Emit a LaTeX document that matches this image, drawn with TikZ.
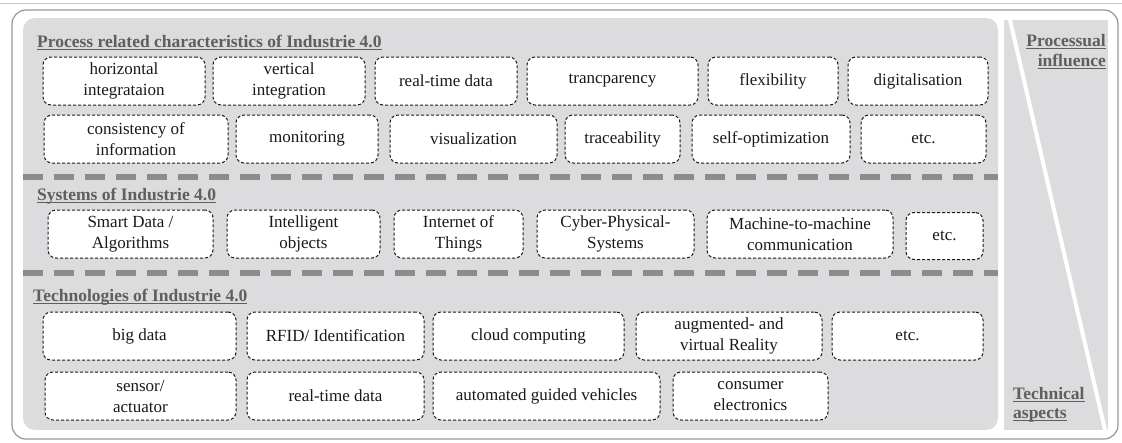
\documentclass[tikz,border=0pt]{standalone}
\usepackage{fontspec}
\setmainfont{Liberation Serif}
\usetikzlibrary{positioning}
\definecolor{panelgray}{RGB}{220,220,222}
\definecolor{framegray}{RGB}{150,150,150}
\definecolor{sepgray}{RGB}{140,140,140}
\definecolor{titlegray}{RGB}{95,95,95}
\newcommand{\ulx}[1]{\setbox0=\hbox{#1}\rlap{\copy0}\rule[-3pt]{\wd0}{1.3pt}}
\tikzset{item/.style={draw=black!90,dash pattern=on 3pt off 2pt,line width=1pt,rounded corners=8pt,fill=white,inner sep=0pt,minimum height=48pt,align=center,font=\fontsize{17}{21}\selectfont,text=black!90}}
\tikzset{ttl/.style={anchor=base west,inner sep=0pt,text=titlegray,font=\fontsize{17.5}{20}\selectfont\bfseries}}
\tikzset{sep/.style={draw=sepgray,line width=6pt,dash pattern=on 20pt off 11pt}}

\begin{document}
\begin{tikzpicture}[x=1pt,y=-1pt]
        \useasboundingbox (0,0) rectangle (1122,442);
        % frame, panel and wedge
        \draw[black!22,line width=1pt] (0,3) -- (1122,3);
        \draw[framegray,line width=1.2pt,rounded corners=14pt] (12,10) rectangle (1118,439);
        \fill[panelgray,rounded corners=12pt] (23,18) rectangle (998,430);
        \fill[panelgray] (1004,20) rectangle (1108,430);
        \draw[white,line width=4pt] (1010,20) -- (1105,430);

        % separators
        \draw[sep] (23,177) -- (998,177);
        \draw[sep] (23,273) -- (998,273);

        % titles
        \node[ttl] (tproc) at (37,47) {\ulx{Process related characteristics of Industrie 4.0}};
        \node[ttl] (tsys) at (37,200) {\ulx{Systems of Industrie 4.0}};
        \node[ttl] (ttech) at (33,301) {\ulx{Technologies of Industrie 4.0}};
        \node[ttl,anchor=base east] (tinfa) at (1106,46) {\ulx{Processual}};
        \node[ttl,anchor=base east] (tinfb) at (1106,66) {\ulx{influence}};
        \node[ttl] (tasa) at (1013,399) {\ulx{Technical}};
        \node[ttl] (tasb) at (1013,418) {\ulx{aspects}};

        % process related characteristics
        \node[item,minimum width=162pt] (hint) at (124,81) {horizontal\\integrataion};
        \node[item,minimum width=152pt] (vint) at (289,81) {vertical\\integration};
        \node[item,minimum width=142pt] (rtd) at (446,81) {real-time data};
        \node[item,minimum width=171pt] (tra) at (612.5,81) {trancparency};
        \node[item,minimum width=130pt] (flex) at (773,81) {flexibility};
        \node[item,minimum width=140pt] (dig) at (918,81) {digitalisation};
        \node[item,minimum width=184pt] (cons) at (136,139) {consistency of\\information};
        \node[item,minimum width=142pt] (mon) at (307,139) {monitoring};
        \node[item,minimum width=167pt] (vis) at (473.5,139) {visualization};
        \node[item,minimum width=115pt] (trace) at (622.5,139) {traceability};
        \node[item,minimum width=158pt] (selfopt) at (771,139) {self-optimization};
        \node[item,minimum width=125pt] (etcproc) at (923.5,139) {etc.};

        % systems
        \node[item,minimum width=165pt] (sda) at (130.5,234) {Smart Data /\\Algorithms};
        \node[item,minimum width=153pt] (iob) at (303.5,234) {Intelligent\\objects};
        \node[item,minimum width=129pt] (iot) at (458.5,234) {Internet of\\Things};
        \node[item,minimum width=157pt] (cps) at (615.5,234) {Cyber-Physical-\\Systems};
        \node[item,minimum width=186pt] (mtm) at (800,234) {Machine-to-machine\\communication};
        \node[item,minimum width=77pt,minimum height=47pt] (etcsys) at (944.5,236) {etc.};

        % technologies
        \node[item,minimum width=193pt] (bd) at (139.5,336) {big data};
        \node[item,minimum width=177pt] (rfid) at (335.5,336) {RFID/ Identification};
        \node[item,minimum width=191pt] (cc) at (528.5,336) {cloud computing};
        \node[item,minimum width=186pt] (avr) at (729,336) {augmented- and\\virtual Reality};
        \node[item,minimum width=151pt] (etctech) at (907.5,336) {etc.};
        \node[item,minimum width=191pt] (sac) at (140.5,396) {sensor/\\actuator};
        \node[item,minimum width=177pt] (rtdtech) at (335.5,396) {real-time data};
        \node[item,minimum width=227pt] (agv) at (546.5,396) {automated guided vehicles};
        \node[item,minimum width=155pt] (cel) at (750.5,396) {consumer\\electronics};
    \end{tikzpicture}
\end{document}
